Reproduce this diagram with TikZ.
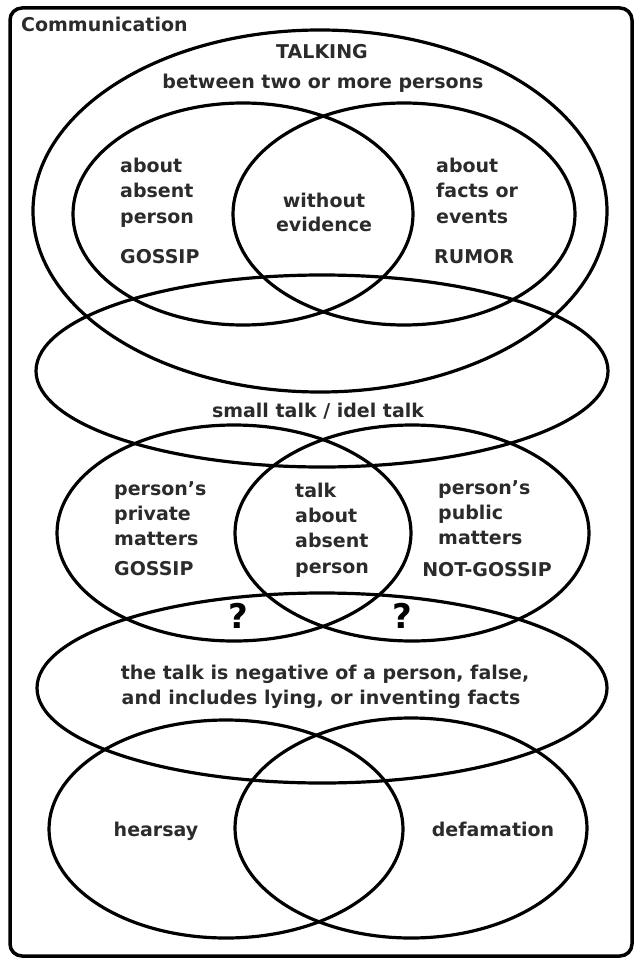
\documentclass[tikz,border=0pt]{standalone}
\usepackage{fontspec}
\setmainfont{DejaVu Sans}
\definecolor{txt}{HTML}{2B2B2B}
\tikzset{
  ring/.style={line width=3.2pt, draw=black},
  lbl/.style={inner sep=0pt, text=txt, font=\fontsize{19}{23}\selectfont\bfseries},
  lblL/.style={lbl, anchor=mid west},
  lblC/.style={lbl, anchor=mid},
  qmark/.style={inner sep=0pt, anchor=mid, text=black, font=\fontsize{34}{40}\selectfont\bfseries}
}
\begin{document}
\begin{tikzpicture}[x=1pt,y=-1pt]
\useasboundingbox (0,0) rectangle (635,960);
% frame
\draw[line width=3.5pt, rounded corners=12pt] (10,8) rectangle (632,956);
\node[lblL] (comm) at (21,29) {Communication};
% top group
\draw[ring] (320,211) ellipse [x radius=287pt, y radius=181pt];
\draw[ring] (243,214) ellipse [x radius=170pt, y radius=111pt];
\draw[ring] (404,214) ellipse [x radius=171pt, y radius=111pt];
\node[lblC] (talking) at (322,56) {TALKING};
\node[lblC] (between) at (323,86) {between two or more persons};
\node[lblL] (a1) at (120,170) {about};
\node[lblL] (a2) at (120,195) {absent};
\node[lblL] (a3) at (120,221) {person};
\node[lblL] (g1) at (120,261) {GOSSIP};
\node[lblC] (w1) at (324,205) {without};
\node[lblC] (w2) at (324,229) {evidence};
\node[lblL] (f1) at (436,170) {about};
\node[lblL] (f2) at (436,195) {facts or};
\node[lblL] (f3) at (436,221) {events};
\node[lblL] (r1) at (434,261) {RUMOR};
% small talk
\draw[ring] (322,371) ellipse [x radius=286pt, y radius=96pt];
\node[lblC] (small) at (318,415) {small talk / idel talk};
% middle group
\draw[ring] (234,533) ellipse [x radius=177pt, y radius=108pt];
\draw[ring] (412,533) ellipse [x radius=177pt, y radius=108pt];
\node[lblL] (p1) at (114,493) {person's};
\node[lblL] (p2) at (114,518) {private};
\node[lblL] (p3) at (114,543) {matters};
\node[lblL] (g2) at (114,573) {GOSSIP};
\node[lblL] (t1) at (295,495) {talk};
\node[lblL] (t2) at (295,520) {about};
\node[lblL] (t3) at (295,545) {absent};
\node[lblL] (t4) at (295,571) {person};
\node[lblL] (q1) at (438,492) {person's};
\node[lblL] (q2) at (438,517) {public};
\node[lblL] (q3) at (438,542) {matters};
\node[lblC] (ng) at (487,574) {NOT-GOSSIP};
\node[qmark] (qm1) at (238,626) {?};
\node[qmark] (qm2) at (402,626) {?};
% negative
\draw[ring] (322,688) ellipse [x radius=285pt, y radius=95pt];
\node[lblC] (n1) at (325,677) {the talk is negative of a person, false,};
\node[lblC] (n2) at (321,702) {and includes lying, or inventing facts};
% bottom group
\draw[ring] (226,829) ellipse [x radius=177pt, y radius=109pt];
\draw[ring] (411,828) ellipse [x radius=176pt, y radius=110pt];
\node[lblC] (hear) at (156,834) {hearsay};
\node[lblC] (defa) at (493,834) {defamation};
\end{tikzpicture}
\end{document}
